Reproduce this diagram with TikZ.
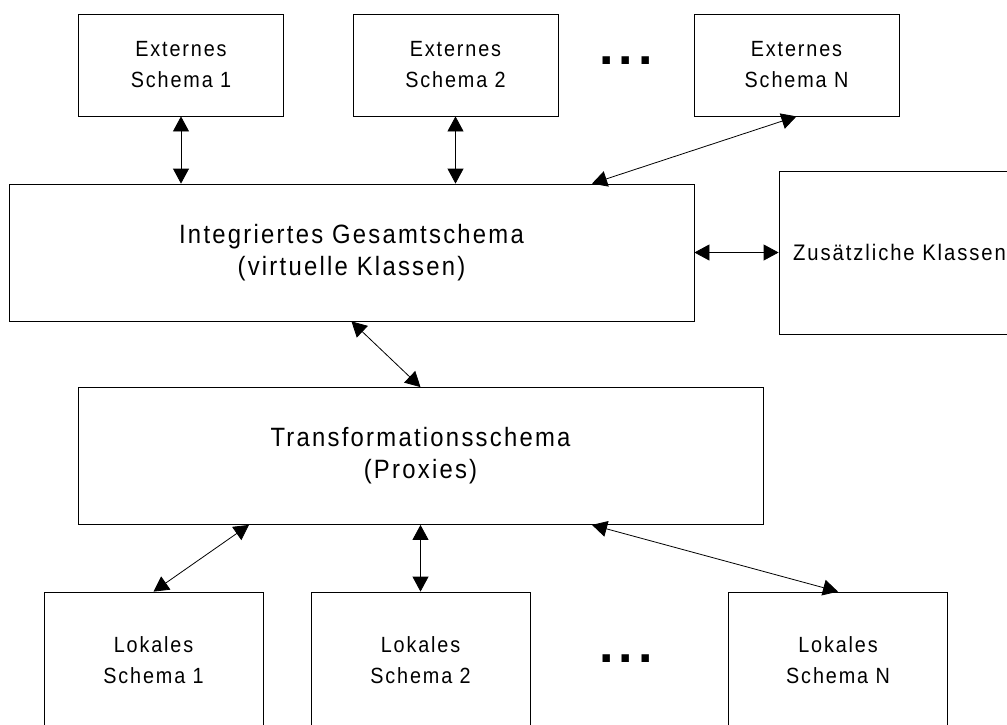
\documentclass[tikz,border=0pt]{standalone}
\usepackage{fontspec}
\setmainfont{Liberation Sans}[FakeStretch=0.9, LetterSpace=8.5]
\newfontfamily\dotfont{Liberation Sans}[LetterSpace=10]
\usetikzlibrary{arrows.meta}

\begin{document}
\begin{tikzpicture}[x=1pt, y=-1pt]
    \useasboundingbox (0,0) rectangle (1007,724);

    \begin{scope}[every node/.style={rectangle, draw, line width=0.8pt, align=center, inner sep=0pt, minimum width=205pt, minimum height=102pt, font=\fontsize{22}{31}\selectfont}]
        \node (e1) at (181,65) {Externes\\Schema 1};
        \node (e2) at (455.5,65) {Externes\\Schema 2};
        \node (eN) at (796.5,65) {Externes\\Schema N};
    \end{scope}

    \begin{scope}[every node/.style={rectangle, draw, line width=0.8pt, align=center, inner sep=0pt, minimum width=685pt, minimum height=137pt, font=\fontsize{26.5}{32}\selectfont}]
        \node (ig) at (351.5,252.5) {Integriertes Gesamtschema\\(virtuelle Klassen)};
        \node (tr) at (420.5,456) {Transformationsschema\\(Proxies)};
    \end{scope}

    \node [rectangle, draw, line width=0.8pt, inner sep=0pt, minimum width=241pt, minimum height=163pt, font=\fontsize{22.5}{31}\selectfont] (zk) at (899.5,252.5) {Zusätzliche Klassen};

    \begin{scope}[every node/.style={rectangle, draw, line width=0.8pt, align=center, inner sep=0pt, minimum width=219pt, minimum height=136pt, font=\fontsize{22}{31}\selectfont}]
        \node (l1) at (153.5,660) {Lokales\\Schema 1};
        \node (l2) at (420.5,660) {Lokales\\Schema 2};
        \node (lN) at (838,660) {Lokales\\Schema N};
    \end{scope}

    \begin{scope}[every node/.style={anchor=base, inner sep=0pt, font=\fontsize{52}{52}\dotfont\bfseries}]
        \node (d1) at (626,64) {...};
        \node (d2) at (626,662) {...};
    \end{scope}

    \begin{scope}[every edge/.style={draw, line width=0.8pt}, >={Triangle[length=15pt,width=16pt]}]
        \path [<->] (e1.south) edge (e1.south |- ig.north);
        \path [<->] (e2.south) edge (e2.south |- ig.north);
        \path [<->] (eN.south) edge ([xshift=240.5pt]ig.north);
        \path [<->] (ig.east) edge (zk.west);
        \path [<->] (ig.south) edge (tr.north);
        \path [<->] ([xshift=-171.5pt]tr.south) edge (l1.north);
        \path [<->] (tr.south) edge (l2.north);
        \path [<->] ([xshift=171.5pt]tr.south) edge (lN.north);
    \end{scope}
\end{tikzpicture}
\end{document}
